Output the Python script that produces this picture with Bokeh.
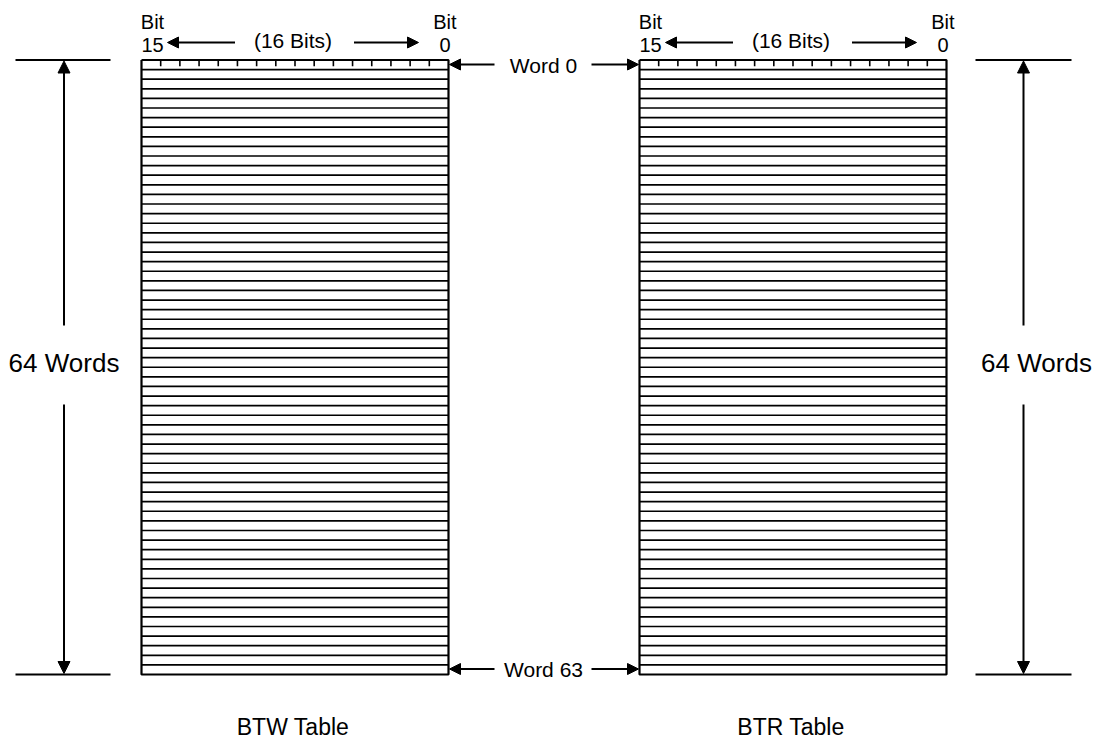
from bokeh.plotting import figure
from bokeh.models import Range1d, Arrow, NormalHead
from bokeh.core.properties import value
from bokeh.embed import file_html
from bokeh.resources import INLINE

# ---- data ----
table_names = ["BTW Table", "BTR Table"]
words_per_table = 64
bits_per_word = 16
word_labels = ["Word 0", "Word 63"]
msb_labels = ["Bit", "15"]
lsb_labels = ["Bit", "0"]
span_label = "(16 Bits)"
height_label = "64 Words"

# ---- layout (pixel-like coordinates, y downward) ----
FONT = value("Liberation Sans")
box_left = [141, 639]
box_w = 307
box_top = 59.5
box_bot = 674.0
row_h = (box_bot - box_top) / words_per_table

W, H = 1097, 741
p = figure(width=W, height=H, output_backend="svg", toolbar_location=None,
           x_range=Range1d(0, W), y_range=Range1d(H, 0),
           min_border=0, outline_line_color=None)
p.axis.visible = False
p.grid.visible = False
p.background_fill_color = "white"
p.border_fill_color = "white"

# row lines
x0s, x1s, ys = [], [], []
for bl in box_left:
    for i in range(1, words_per_table):
        x0s.append(bl); x1s.append(bl + box_w); ys.append(box_top + i * row_h)
p.segment(x0=x0s, y0=ys, x1=x1s, y1=ys, line_color="black", line_width=1.7)

# bit ticks in first row
tx, ty0, ty1 = [], [], []
for bl in box_left:
    for k in range(1, bits_per_word):
        tx.append(bl + k * box_w / bits_per_word); ty0.append(box_top); ty1.append(box_top + row_h * 0.65)
p.segment(x0=tx, y0=ty0, x1=tx, y1=ty1, line_color="black", line_width=1.6)

# box outlines
for bl in box_left:
    p.line(x=[bl, bl + box_w, bl + box_w, bl, bl], y=[box_top, box_top, box_bot, box_bot, box_top],
           line_color="black", line_width=2.2)

def arrow(xs, ys, xe, ye, size=12):
    p.add_layout(Arrow(end=NormalHead(size=size, fill_color="black", line_color="black", line_width=1),
                       x_start=xs, y_start=ys, x_end=xe, y_end=ye,
                       line_color="black", line_width=2))

def txt(x, y, s, size, align="center"):
    p.text(x=[x], y=[y], text=[s], text_font=FONT, text_font_size=size,
           text_align=align, text_baseline="middle", text_color="black")

# dimension lines (64 Words)
for vx, hx0, hx1 in [(63.5, 15, 110), (1023, 975, 1071)]:
    p.segment(x0=[hx0, hx0], y0=[box_top, box_bot], x1=[hx1, hx1], y1=[box_top, box_bot],
              line_color="black", line_width=2)
    arrow(vx, 325, vx, box_top + 1)
    arrow(vx, 404, vx, box_bot - 1)
txt(63.5, 362, height_label, "26px")
txt(1036, 362, height_label, "26px")

# word arrows
word_y = [64, 668.5]
for lab, wy in zip(word_labels, word_y):
    arrow(494, wy, box_left[0] + box_w + 1, wy, size=11)
    arrow(591, wy, box_left[1] - 1, wy, size=11)
    txt(543, wy + 0.5, lab, "21px")

# bit header labels
for bl in box_left:
    txt(bl + 11, 21, msb_labels[0], "20px")
    txt(bl + 11, 44.5, msb_labels[1], "20px")
    txt(bl + box_w + 8, 21, lsb_labels[0], "20px", align="right")
    txt(bl + box_w + 2, 44.5, lsb_labels[1], "20px", align="right")
    cx = bl + box_w / 2 - 2
    txt(cx, 40, span_label, "21px")
    arrow(cx - 58, 42, bl + 26, 42, size=11)
    arrow(cx + 61, 42, bl + box_w - 30, 42, size=11)

# table titles
for bl, name in zip(box_left, table_names):
    txt(bl + box_w / 2 - 2, 726, name, "23px")

open("out.html", "w").write(file_html(p, INLINE))
